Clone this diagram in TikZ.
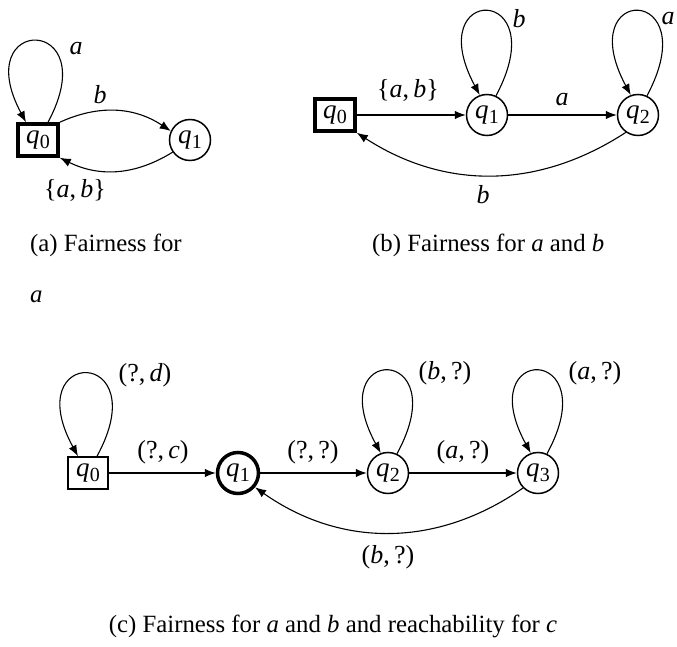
\documentclass[tikz,border=0pt]{standalone}
\usepackage{fontspec}
\setmainfont{Liberation Serif}
\usetikzlibrary{arrows.meta}
\newcommand{\qsub}[1]{\textit{q}\kern0.3pt\raisebox{-0.2em}{\fontsize{20}{20}\selectfont #1}}
\begin{document}
\begin{tikzpicture}[x=1pt,y=1pt,
  lbl/.style={font=\fontsize{26}{28}\selectfont, inner sep=0pt},
  captext/.style={font=\fontsize{24.8}{28}\selectfont, inner sep=0pt},
  st/.style={circle, draw, line width=1.5pt, minimum size=41pt, inner sep=0pt, font=\fontsize{27}{28}\selectfont},
  sq/.style={rectangle, draw, line width=1.5pt, minimum width=40pt, minimum height=32pt, inner sep=0pt, font=\fontsize{27}{28}\selectfont},
  acc/.style={line width=3.5pt},
  tr/.style={-{Latex[length=11pt,width=8.5pt]}, line width=1.1pt}]
\useasboundingbox (0,0) rectangle (677,646);

% ---------- (a)
\node[sq, acc] (q0a) at (38,506) {\qsub{0}};
\node[st] (q1a) at (190,506) {\qsub{1}};
\draw[tr] ([xshift=10pt]q0a.north) .. controls +(58,108) and +(-58,108) .. ([xshift=-12pt]q0a.north);
\node[lbl] (la1) at (76,597) {\textit{a}};
\draw[tr] (q0a.north east) to[bend left=29] (q1a.155);
\node[lbl] (la2) at (100,551) {\textit{b}};
\draw[tr] (q1a.215) to[bend left=29] (q0a.south east);
\node[lbl] (la3) at (75,456) {\{\textit{a},\thinspace\textit{b}\}};

% ---------- (b)
\node[sq, acc] (q0b) at (335,531) {\qsub{0}};
\node[st] (q1b) at (487,531) {\qsub{1}};
\node[st] (q2b) at (638,531) {\qsub{2}};
\draw[tr] (q0b) -- (q1b);
\node[lbl] (lb1) at (408,556) {\{\textit{a},\thinspace\textit{b}\}};
\draw[tr] (q1b) -- (q2b);
\node[lbl] (lb2) at (562,546) {\textit{a}};
\draw[tr] (q1b.65) .. controls +(60,112) and +(-60,112) .. (q1b.110);
\node[lbl] (lb3) at (519,627) {\textit{b}};
\draw[tr] (q2b.65) .. controls +(60,112) and +(-60,112) .. (q2b.110);
\node[lbl] (lb4) at (668,627) {\textit{a}};
\draw[tr] (q2b.235) to[bend left=33] (q0b.south east);
\node[lbl] (lb5) at (483,451) {\textit{b}};

% ---------- captions
\node[captext, anchor=west] (capa) at (30,401) {(a) Fairness for};
\node[captext, anchor=west] (capa2) at (30,349) {\textit{a}};
\node[captext, anchor=west] (capb) at (372,401) {(b) Fairness for \textit{a} and \textit{b}};

% ---------- (c)
\node[sq] (q0c) at (88,173) {\qsub{0}};
\node[st, acc] (q1c) at (238,173) {\qsub{1}};
\node[st] (q2c) at (388,173) {\qsub{2}};
\node[st] (q3c) at (538,173) {\qsub{3}};
\draw[tr] ([xshift=9pt]q0c.north) .. controls +(60,110) and +(-60,110) .. ([xshift=-10pt]q0c.north);
\node[lbl] (lc1) at (145,271) {(?,\thinspace\textit{d})};
\draw[tr] (q0c) -- (q1c);
\node[lbl] (lc2) at (163,194) {(?,\thinspace\textit{c})};
\draw[tr] (q1c) -- (q2c);
\node[lbl] (lc3) at (313,194) {(?,\thinspace?)};
\draw[tr] (q2c) -- (q3c);
\node[lbl] (lc4) at (463,194) {(\textit{a},\thinspace?)};
\draw[tr] (q2c.65) .. controls +(60,110) and +(-60,110) .. (q2c.110);
\node[lbl] (lc5) at (445,273) {(\textit{b},\thinspace?)};
\draw[tr] (q3c.65) .. controls +(60,110) and +(-60,110) .. (q3c.110);
\node[lbl] (lc6) at (595,273) {(\textit{a},\thinspace?)};
\draw[tr] (q3c.225) to[bend left=35] (q1c.-40);
\node[lbl] (lc7) at (388,89) {(\textit{b},\thinspace?)};

\node[captext] (capc) at (333,20) {(c) Fairness for \textit{a} and \textit{b} and reachability for \textit{c}};
\end{tikzpicture}
\end{document}
